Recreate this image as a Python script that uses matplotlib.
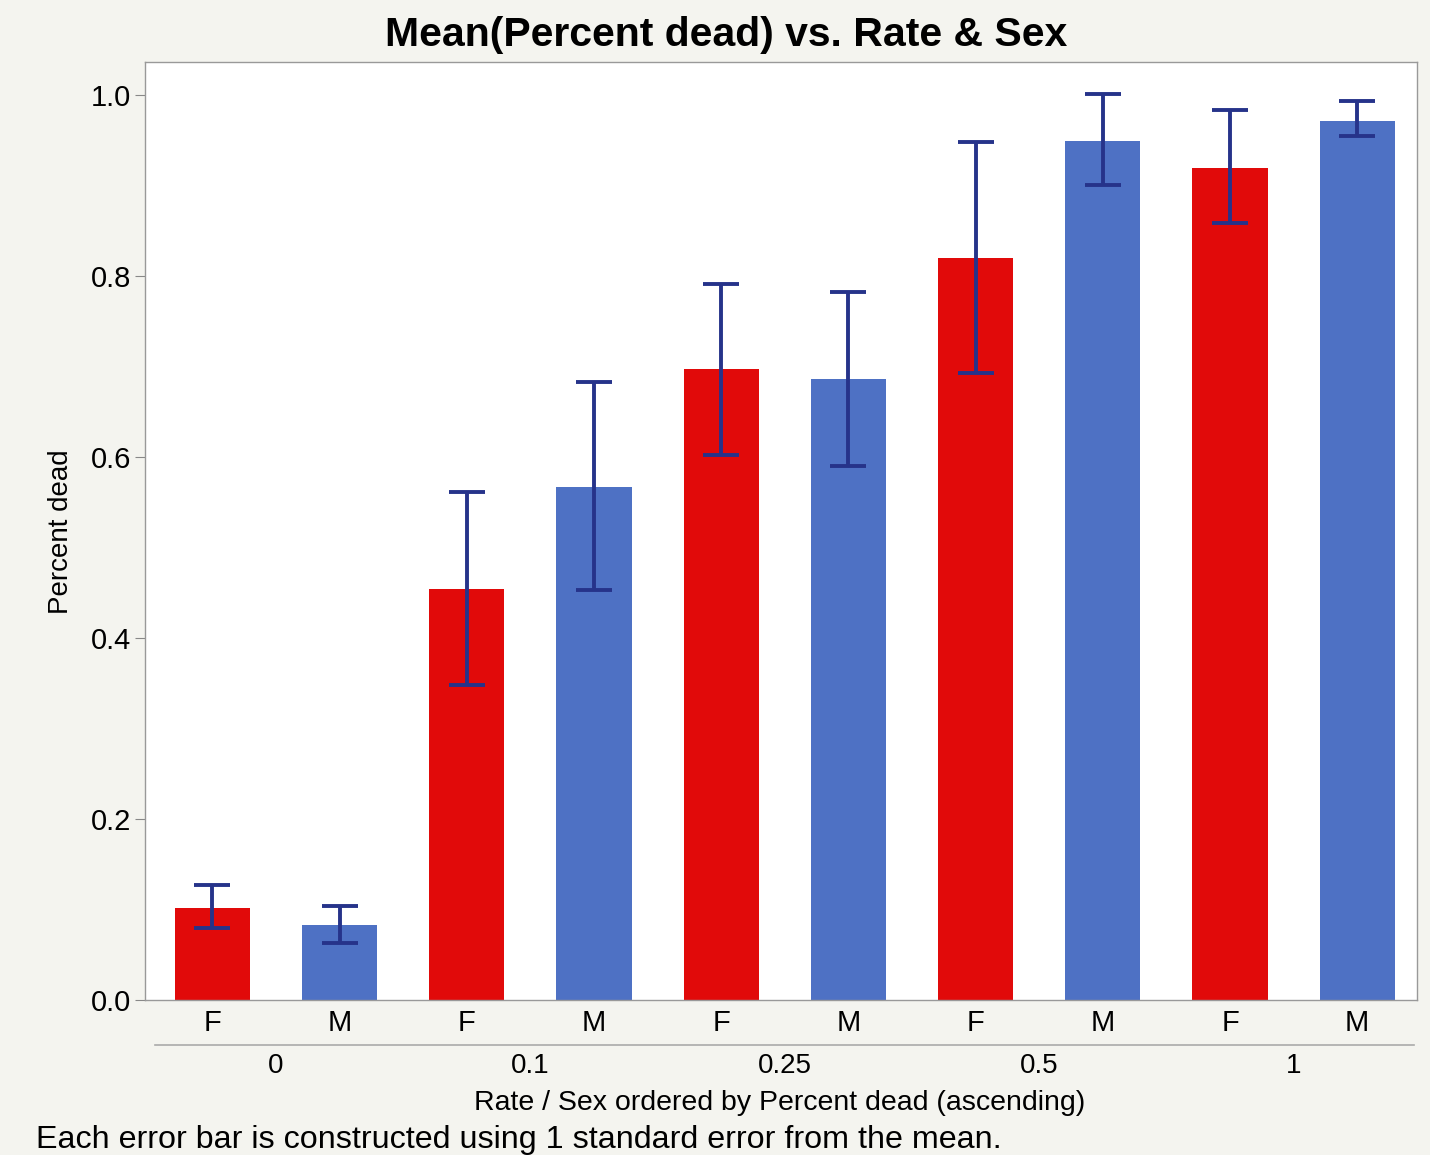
import matplotlib.pyplot as plt
import numpy as np

plt.rcParams['font.family'] = ['Liberation Sans', 'DejaVu Sans']

# data
rates = ["0", "0.1", "0.25", "0.5", "1"]
sexes = ["F", "M", "F", "M", "F", "M", "F", "M", "F", "M"]
means = [0.102, 0.083, 0.454, 0.567, 0.697, 0.686, 0.820, 0.949, 0.919, 0.971]
err_hi = [0.127, 0.104, 0.561, 0.683, 0.791, 0.782, 0.948, 1.001, 0.983, 0.993]
err_lo = [0.080, 0.063, 0.348, 0.453, 0.602, 0.590, 0.693, 0.901, 0.859, 0.955]

red = "#e10a0a"
blue = "#4e71c4"
navy = "#26338a"

means = np.array(means)
yerr = np.array([means - np.array(err_lo), np.array(err_hi) - means])
colors = [red if s == "F" else blue for s in sexes]
x = np.arange(len(means))

fig = plt.figure(figsize=(14.3, 11.55), dpi=100, facecolor="#f4f4ef")
ax = fig.add_axes([0.1014, 0.134, 0.8895, 0.812])
ax.set_facecolor("white")

ax.bar(x, means, width=0.59, color=colors, zorder=2)
ax.errorbar(x, means, yerr=yerr, fmt="none", ecolor=navy, elinewidth=2.8,
            capsize=13, capthick=2.8, zorder=3)

ax.set_xlim(-0.53, 9.47)
ax.set_ylim(0, 1.036)
ax.set_yticks([0, 0.2, 0.4, 0.6, 0.8, 1.0])
ax.set_yticklabels(["0.0", "0.2", "0.4", "0.6", "0.8", "1.0"])
ax.tick_params(axis="y", labelsize=21, length=7, color="#888888", pad=3)
ax.set_xticks(x)
ax.set_xticklabels(sexes)
ax.tick_params(axis="x", labelsize=21, length=0, pad=6)
for sp in ax.spines.values():
    sp.set_color("#999999")
    sp.set_linewidth(1.0)

ax.set_ylabel("Percent dead", fontsize=20, labelpad=12)

# group level axis under the F/M labels
trans = ax.get_xaxis_transform()
ax.plot([-0.45, 9.45], [-0.048, -0.048], transform=trans, color="#aaaaaa",
        lw=1.2, clip_on=False)
for i, r in enumerate(rates):
    ax.text(2 * i + 0.5, -0.070, r, transform=trans, ha="center", va="center",
            fontsize=20)

fig.text(780 / 1430, 1 - 1103 / 1155, "Rate / Sex ordered by Percent dead (ascending)",
         ha="center", va="center", fontsize=20.5)
fig.text(36 / 1430, 1 - 1140 / 1155,
         "Each error bar is constructed using 1 standard error from the mean.",
         ha="left", va="center", fontsize=23.2)
fig.text(726 / 1430, 1 - 35 / 1155, "Mean(Percent dead) vs. Rate & Sex",
         ha="center", va="center", fontsize=29.5, fontweight="bold")

fig.savefig("out.png", dpi=100, facecolor=fig.get_facecolor())
